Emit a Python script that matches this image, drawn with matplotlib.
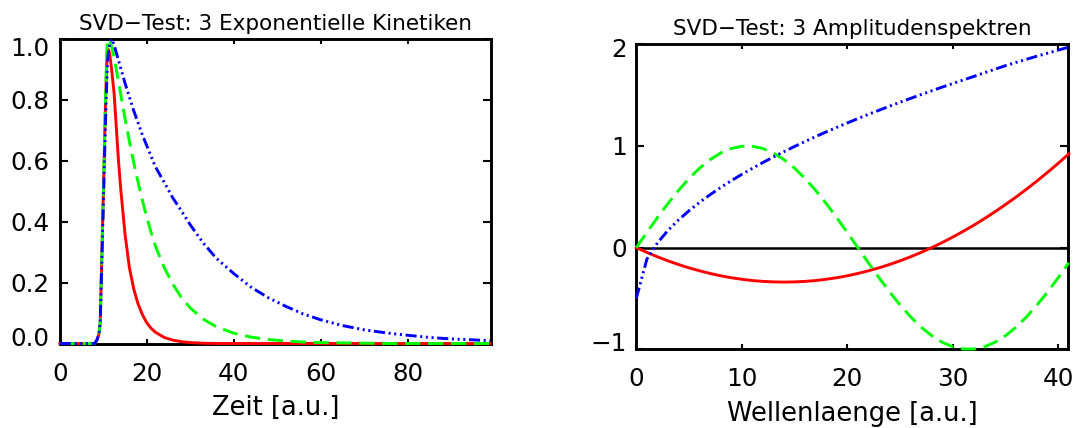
import matplotlib
matplotlib.use("Agg")
import matplotlib.pyplot as plt
from matplotlib.transforms import ScaledTranslation

plt.rcParams['font.family'] = ['DejaVu Sans']
plt.rcParams['lines.scale_dashes'] = False

# ---------------- data: left panel (kinetics) ----------------
kin_t = [0, 8, 8.5, 9, 9.3, 10, 10.5, 10.8, 11, 11.2, 11.5, 12, 12.5, 13, 13.5, 14,
         15, 16, 17, 18, 19, 20, 21, 22, 24, 26, 28, 30, 33, 36, 40, 44, 48, 52,
         56, 60, 65, 70, 75, 80, 85, 90, 95, 99]
kin_red = [0, 0, 0.01, 0.03, 0.07, 0.48, 0.78, 0.92, 0.955, 0.965, 0.95, 0.89, 0.82,
           0.71, 0.60, 0.51, 0.36, 0.25, 0.18, 0.13, 0.095, 0.068, 0.05, 0.037,
           0.02, 0.011, 0.006, 0.003, 0.001, 0, 0, 0, 0, 0, 0, 0, 0, 0, 0, 0, 0, 0, 0, 0]
kin_green = [0, 0, 0.01, 0.03, 0.07, 0.48, 0.80, 0.96, 0.995, 1.0, 0.995, 0.97, 0.94,
             0.90, 0.86, 0.82, 0.74, 0.665, 0.595, 0.53, 0.47, 0.415, 0.365, 0.32,
             0.25, 0.195, 0.15, 0.117, 0.08, 0.055, 0.034, 0.021, 0.013, 0.008,
             0.005, 0.003, 0.002, 0.001, 0, 0, 0, 0, 0, 0]
kin_blue = [0, 0, 0.01, 0.03, 0.07, 0.45, 0.72, 0.86, 0.93, 0.96, 0.985, 1.0, 0.98,
            0.955, 0.93, 0.905, 0.855, 0.81, 0.765, 0.725, 0.685, 0.65, 0.615, 0.58,
            0.53, 0.478, 0.435, 0.39, 0.33, 0.28, 0.23, 0.185, 0.15, 0.122, 0.097,
            0.078, 0.059, 0.045, 0.035, 0.027, 0.02, 0.015, 0.012, 0.009]

# ---------------- data: right panel (amplitude spectra) ----------------
wl = list(range(42))
amp_red = [0, -0.047, -0.09, -0.13, -0.166, -0.199, -0.228, -0.254, -0.277, -0.296,
           -0.311, -0.324, -0.332, -0.337, -0.339, -0.337, -0.332, -0.324, -0.311,
           -0.296, -0.277, -0.254, -0.228, -0.199, -0.166, -0.13, -0.09, -0.047, 0,
           0.05, 0.104, 0.161, 0.221, 0.285, 0.353, 0.424, 0.498, 0.576, 0.657,
           0.742, 0.83, 0.922]
amp_green = [0, 0.149, 0.295, 0.434, 0.563, 0.68, 0.782, 0.866, 0.931, 0.975, 0.997,
             0.997, 0.975, 0.931, 0.866, 0.782, 0.68, 0.563, 0.434, 0.295, 0.149, 0,
             -0.149, -0.295, -0.434, -0.563, -0.68, -0.782, -0.866, -0.931, -0.975,
             -0.997, -0.997, -0.975, -0.931, -0.866, -0.782, -0.68, -0.563, -0.434,
             -0.295, -0.149]
amp_blue = [-0.5, -0.114, 0.046, 0.169, 0.272, 0.363, 0.446, 0.521, 0.592, 0.658,
            0.721, 0.78, 0.837, 0.892, 0.944, 0.995, 1.044, 1.092, 1.138, 1.183,
            1.226, 1.269, 1.311, 1.351, 1.391, 1.43, 1.468, 1.506, 1.543, 1.579,
            1.614, 1.649, 1.684, 1.72, 1.755, 1.79, 1.822, 1.853, 1.884, 1.913,
            1.943, 1.972]

left_xticks = [0, 20, 40, 60, 80]
left_yticks = [0.0, 0.2, 0.4, 0.6, 0.8, 1.0]
left_yticklabels = ["0.0", "0.2", "0.4", "0.6", "0.8", "1.0"]
right_xticks = [0, 10, 20, 30, 40]
right_yticks = [-1, 0, 1, 2]
right_yticklabels = ["\u22121", "0", "1", "2"]

title_left = "SVD\u2212Test: 3 Exponentielle Kinetiken"
title_right = "SVD\u2212Test: 3 Amplitudenspektren"
xlabel_left = "Zeit [a.u.]"
xlabel_right = "Wellenlaenge [a.u.]"

# ---------------- styles ----------------
RED = (1, 0, 0)
GREEN = (0, 1, 0)
BLUE = (0, 0, 1)
LW = 2.1
dash_green = (0, (11.0, 5.5))
dash_blue = (0, (8.0, 2.6, 1.5, 2.6, 1.5, 2.6, 1.5, 2.6))
TICK_FS = 17.7
LABEL_FS = 18.5
TITLE_FS = 15.5

fig = plt.figure(figsize=(10.74, 4.28), dpi=100)
W, H = 1074, 428
axL = fig.add_axes([59.8 / W, (H - 343.5) / H, 431.2 / W, 304.5 / H])
axR = fig.add_axes([636.3 / W, (H - 349.3) / H, 432.0 / W, 305.0 / H])

for ax in (axL, axR):
    for s in ax.spines.values():
        s.set_linewidth(2.1)
        s.set_zorder(2.5)
    ax.tick_params(which='major', direction='in', top=True, right=True,
                   width=1.5, labelsize=TICK_FS, colors='black')
    ax.tick_params(axis='x', length=3.8, pad=13.0)
axL.tick_params(axis='y', length=6.0, pad=7.5)
axR.tick_params(axis='y', length=6.0, pad=7.0)

# left panel
axL.plot(kin_t, kin_red, color=RED, lw=LW, zorder=3, clip_on=False)
axL.plot(kin_t, kin_green, color=GREEN, lw=LW, ls=dash_green, zorder=3.1, clip_on=False)
axL.plot(kin_t, kin_blue, color=BLUE, lw=LW, ls=dash_blue, zorder=3.2, clip_on=False)
axL.set_xlim(0, 99.2)
axL.set_ylim(0, 1.0)
axL.set_xticks(left_xticks)
axL.set_xticklabels([str(v) for v in left_xticks])
axL.set_yticks(left_yticks)
axL.set_yticklabels(left_yticklabels)
axL.set_title(title_left, fontsize=TITLE_FS, pad=6.2)
axL.set_xlabel(xlabel_left, fontsize=LABEL_FS, labelpad=6.5)

# right panel
axR.axhline(0, color='black', lw=1.8, zorder=2.6)
axR.plot(wl, amp_red, color=RED, lw=LW, zorder=3, clip_on=False)
axR.plot(wl, amp_green, color=GREEN, lw=LW, ls=dash_green, zorder=3.1, clip_on=False)
axR.plot(wl, amp_blue, color=BLUE, lw=LW, ls=dash_blue, zorder=3.2, clip_on=False)
axR.set_xlim(0, 40.95)
axR.set_ylim(-1, 2)
axR.set_xticks(right_xticks)
axR.set_xticklabels([str(v) for v in right_xticks])
axR.set_yticks(right_yticks)
axR.set_yticklabels(right_yticklabels)
axR.set_title(title_right, fontsize=TITLE_FS, pad=6.7)
axR.set_xlabel(xlabel_right, fontsize=LABEL_FS, labelpad=7.0)

# IDL keeps end labels inside the axis range: shift them a little
def shift_label(ax, idx, dy_px):
    tick = ax.yaxis.get_major_ticks()[idx]
    tick.label1.set_transform(tick.label1.get_transform() +
                              ScaledTranslation(0, dy_px / 100.0, fig.dpi_scale_trans))

shift_label(axL, 0, 7)
shift_label(axL, 5, -8)
shift_label(axR, 0, 7.5)
shift_label(axR, 3, -3.5)

fig.savefig("out.png", dpi=100)
